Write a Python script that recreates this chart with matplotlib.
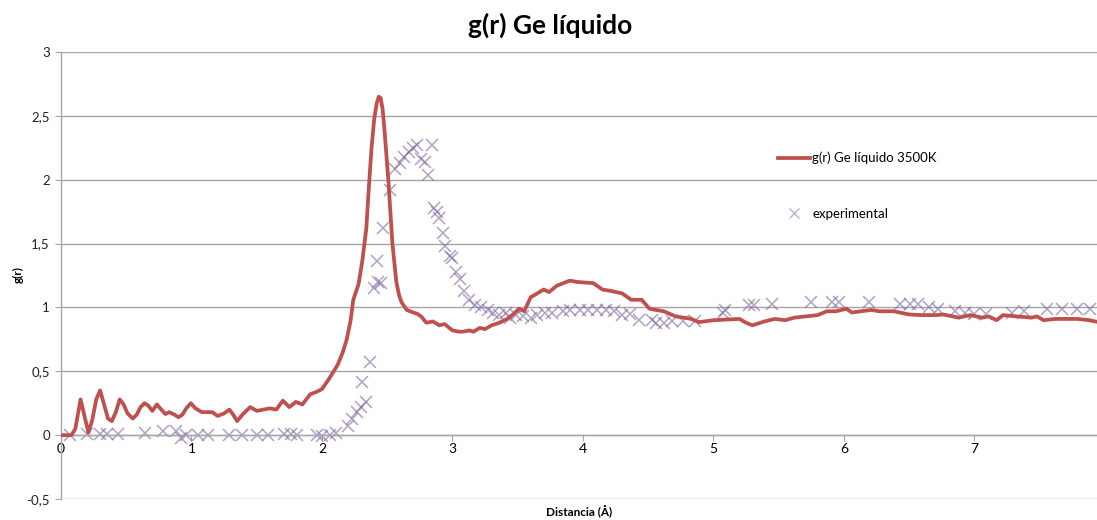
import matplotlib
matplotlib.use("Agg")
import matplotlib.pyplot as plt
from matplotlib.lines import Line2D

plt.rcParams['font.family'] = ['Lato', 'DejaVu Sans']

# Simulated g(r) line
sim_r = [0.00, 0.04, 0.08, 0.11, 0.15, 0.18, 0.21, 0.24, 0.27, 0.30, 0.33, 0.36, 0.39, 0.42,
         0.45, 0.48, 0.51, 0.55, 0.58, 0.61, 0.64, 0.67, 0.70, 0.735, 0.76, 0.80, 0.83, 0.87,
         0.90, 0.93, 0.96, 0.995, 1.03, 1.08, 1.16, 1.20, 1.25, 1.29, 1.32, 1.35, 1.39, 1.45,
         1.50, 1.55, 1.60, 1.65, 1.70, 1.75, 1.80, 1.85, 1.91, 1.96, 2.00, 2.06, 2.12, 2.16,
         2.19, 2.22, 2.24, 2.28, 2.31, 2.34, 2.36, 2.38, 2.40, 2.42, 2.435, 2.45, 2.465, 2.48,
         2.495, 2.51, 2.54, 2.57, 2.59, 2.61, 2.65, 2.70, 2.73, 2.76, 2.80, 2.85, 2.90, 2.94,
         3.00, 3.05, 3.08, 3.13, 3.16, 3.21, 3.25, 3.30, 3.36, 3.42, 3.47, 3.51, 3.55, 3.60,
         3.65, 3.70, 3.74, 3.80, 3.85, 3.90, 3.95, 4.08, 4.15, 4.21, 4.30, 4.37, 4.45, 4.51,
         4.56, 4.62, 4.71, 4.83, 4.89, 5.00, 5.10, 5.20, 5.25, 5.30, 5.39, 5.47, 5.55, 5.62,
         5.71, 5.80, 5.87, 5.94, 6.02, 6.06, 6.13, 6.21, 6.27, 6.38, 6.50, 6.59, 6.71, 6.76,
         6.88, 6.97, 7.06, 7.11, 7.17, 7.22, 7.32, 7.44, 7.48, 7.53, 7.62, 7.70, 7.79, 7.88,
         7.95]
sim_g = [0.00, 0.00, 0.00, 0.05, 0.28, 0.15, 0.02, 0.12, 0.28, 0.35, 0.24, 0.13, 0.11, 0.18,
         0.28, 0.24, 0.17, 0.13, 0.16, 0.22, 0.25, 0.23, 0.19, 0.24, 0.21, 0.165, 0.18, 0.16,
         0.14, 0.16, 0.21, 0.25, 0.21, 0.18, 0.18, 0.15, 0.17, 0.20, 0.16, 0.11, 0.16, 0.22,
         0.19, 0.20, 0.21, 0.20, 0.27, 0.22, 0.26, 0.24, 0.32, 0.34, 0.36, 0.45, 0.55, 0.65,
         0.75, 0.90, 1.06, 1.18, 1.37, 1.62, 1.95, 2.25, 2.47, 2.60, 2.65, 2.64, 2.55, 2.38,
         2.18, 1.98, 1.50, 1.20, 1.10, 1.04, 0.98, 0.96, 0.95, 0.93, 0.88, 0.89, 0.86, 0.87,
         0.82, 0.81, 0.81, 0.82, 0.81, 0.84, 0.83, 0.86, 0.88, 0.91, 0.95, 0.99, 0.97, 1.08,
         1.11, 1.14, 1.12, 1.17, 1.19, 1.21, 1.20, 1.19, 1.14, 1.13, 1.11, 1.06, 1.06, 0.99,
         0.98, 0.97, 0.93, 0.91, 0.885, 0.90, 0.905, 0.91, 0.88, 0.86, 0.89, 0.91, 0.90, 0.92,
         0.93, 0.94, 0.97, 0.97, 0.99, 0.96, 0.97, 0.98, 0.97, 0.97, 0.945, 0.94, 0.94, 0.945,
         0.92, 0.94, 0.92, 0.93, 0.90, 0.94, 0.93, 0.92, 0.93, 0.90, 0.91, 0.91, 0.91, 0.90,
         0.885]

# Experimental points
exp_r = [0.07, 0.20, 0.30, 0.35, 0.44, 0.64, 0.78, 0.88, 0.92, 0.96, 1.05, 1.13, 1.29, 1.39,
         1.50, 1.59, 1.71, 1.76, 1.81, 1.96, 2.00, 2.06, 2.11, 2.20, 2.23, 2.27, 2.30, 2.34,
         2.31, 2.37, 2.40, 2.43, 2.45, 2.42, 2.47, 2.52, 2.56, 2.60, 2.63, 2.67, 2.70, 2.73,
         2.76, 2.79, 2.81, 2.84, 2.86, 2.88, 2.90, 2.93, 2.94, 2.98, 3.00, 3.03, 3.06, 3.09,
         3.13, 3.17, 3.22, 3.27, 3.31, 3.36, 3.41, 3.44, 3.49, 3.54, 3.60, 3.65, 3.71, 3.76,
         3.85, 3.90, 3.98, 4.04, 4.11, 4.18, 4.24, 4.30, 4.36, 4.43, 4.53, 4.56, 4.62, 4.68,
         4.77, 4.86, 5.07, 5.09, 5.27, 5.31, 5.45, 5.75, 5.91, 5.96, 6.19, 6.43, 6.51, 6.57,
         6.65, 6.72, 6.85, 6.93, 7.00, 7.09, 7.29, 7.38, 7.56, 7.67, 7.79, 7.89]
exp_g = [0.00, 0.01, 0.01, 0.01, 0.01, 0.02, 0.03, 0.03, -0.02, 0.00, 0.00, 0.00, 0.00, 0.00,
         0.00, 0.00, 0.01, 0.01, 0.00, 0.00, -0.01, 0.00, 0.02, 0.07, 0.13, 0.18, 0.22, 0.26,
         0.42, 0.57, 1.15, 1.20, 1.19, 1.36, 1.62, 1.92, 2.08, 2.13, 2.18, 2.22, 2.25, 2.27,
         2.16, 2.14, 2.04, 2.27, 1.78, 1.75, 1.70, 1.58, 1.48, 1.40, 1.39, 1.28, 1.22, 1.13,
         1.06, 1.02, 1.00, 0.98, 0.96, 0.94, 0.96, 0.92, 0.94, 0.93, 0.92, 0.94, 0.96, 0.96,
         0.97, 0.98, 0.98, 0.98, 0.98, 0.98, 0.97, 0.94, 0.95, 0.90, 0.90, 0.88, 0.88, 0.89,
         0.89, 0.89, 0.96, 0.98, 1.02, 1.02, 1.03, 1.04, 1.04, 1.04, 1.04, 1.03, 1.03, 1.03,
         1.00, 0.99, 0.97, 0.96, 0.95, 0.95, 0.96, 0.97, 0.99, 0.99, 0.99, 0.99]

x_ticks = [0, 1, 2, 3, 4, 5, 6, 7]
x_tick_labels = ["0", "1", "2", "3", "4", "5", "6", "7"]
y_ticks = [-0.5, 0, 0.5, 1, 1.5, 2, 2.5, 3]
y_tick_labels = ["-0,5", "0", "0,5", "1", "1,5", "2", "2,5", "3"]

title = "g(r) Ge líquido"
line_label = "g(r) Ge líquido 3500K"
exp_label = "experimental"

fig = plt.figure(figsize=(10.97, 5.20), dpi=100)
ax = fig.add_axes([61/1097, 1 - 499/520, 1 - 61/1097, (499 - 52)/520])

grid_c = '#a6a6a6'
for y in y_ticks:
    ax.axhline(y, color=grid_c, lw=1.0, zorder=1)

ax.plot(sim_r, sim_g, color='#C0504D', lw=2.7, zorder=3, label=line_label,
        solid_joinstyle='round', solid_capstyle='round')
ax.plot(exp_r, exp_g, linestyle='none', marker='x', markersize=8, mew=1.1,
        color='#8064A2', alpha=0.6, zorder=2, label=exp_label)

ax.set_xlim(0, 7.94)
ax.set_ylim(-0.5, 3)

for s in ['top', 'right']:
    ax.spines[s].set_visible(False)
ax.spines['left'].set_color(grid_c)
ax.spines['left'].set_linewidth(1.0)

ax.set_yticks(y_ticks)
ax.set_yticklabels(y_tick_labels, fontsize=9.5, color='#222222')
ax.set_xticks(x_ticks)
ax.set_xticklabels(x_tick_labels, fontsize=9.5, color='#222222')
ax.tick_params(axis='y', length=4, color=grid_c, pad=4)
ax.tick_params(axis='x', length=4, color=grid_c, pad=2)

ax.xaxis.set_ticks_position('bottom')
ax.spines['bottom'].set_position(('data', 0))
ax.spines['bottom'].set_color(grid_c)
ax.spines['bottom'].set_linewidth(1.0)

fig.text(550/1097, 0.951, title, ha='center', va='center',
         fontsize=19, fontweight='bold')
fig.text(0.0165, 1 - 275/520, "g(r)", rotation=90, ha='center', va='center',
         fontsize=8.5, fontweight='bold')
fig.text((61 + 1097) / 2 / 1097, 1 - 512/520, "Distancia (Å)", ha='center', va='center',
         fontsize=8.5, fontweight='bold')

handles = [Line2D([0], [0], color='#C0504D', lw=2.7),
           Line2D([0], [0], linestyle='none', marker='x', markersize=7, mew=1.0,
                  color='#8064A2', alpha=0.5)]
leg = fig.legend(handles, [line_label, exp_label], loc='upper left',
                 bbox_to_anchor=(766/1097, 1 - 140/520), frameon=False,
                 fontsize=9.5, labelspacing=3.3, handlelength=2.4, handletextpad=0.2)

fig.savefig("out.png", dpi=100, facecolor='white')
